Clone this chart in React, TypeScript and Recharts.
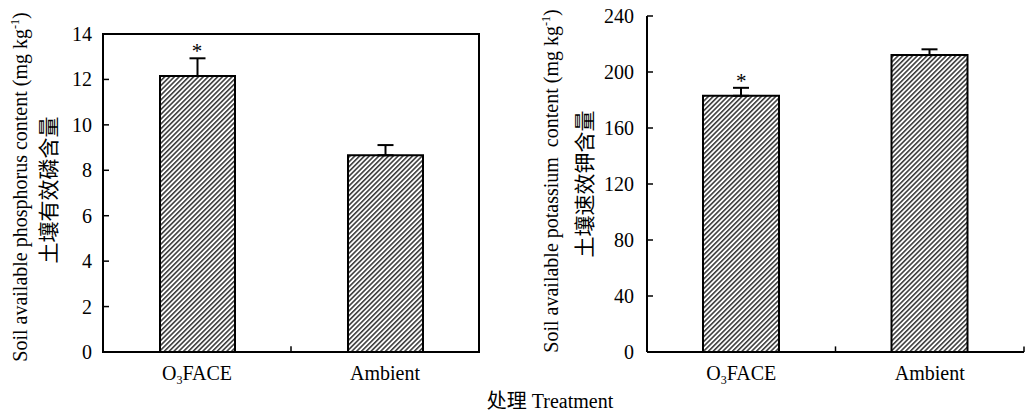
import React from 'react';
import {
  BarChart,
  Bar,
  XAxis,
  YAxis,
  ErrorBar,
  ReferenceLine,
  ReferenceArea,
  ReferenceDot,
} from 'recharts';

const categories = ['O3FACE', 'Ambient'];
const phosphorus = [12.15, 8.66];
const phosphorusErr = [0.78, 0.45];
const potassium = [183.0, 212.1];
const potassiumErr = [5.7, 4.1];
const significance = ['*', ''];
const phosphorusTicks = [0, 2, 4, 6, 8, 10, 12, 14];
const potassiumTicks = [0, 40, 80, 120, 160, 200, 240];

const pData = categories.map((c, i) => ({
  name: c,
  value: phosphorus[i],
  err: [0, phosphorusErr[i]],
  top: phosphorus[i] + phosphorusErr[i],
  sig: significance[i],
}));
const kData = categories.map((c, i) => ({
  name: c,
  value: potassium[i],
  err: [0, potassiumErr[i]],
  top: potassium[i] + potassiumErr[i],
  sig: significance[i],
}));

const SERIF = "'Liberation Serif', 'Times New Roman', 'Noto Sans CJK SC', serif";
const CJK = "'Noto Sans CJK SC', sans-serif";

const YTick = (props: any) => {
  const { x, y, payload, gap, fs } = props;
  return (
    <g>
      <line x1={x + gap} x2={x + gap + 6} y1={y} y2={y} stroke="#000" strokeWidth={1.5} />
      <text x={x} y={y} dy="0.35em" textAnchor="end" fontSize={fs} fontFamily={SERIF} fill="#000">
        {payload.value}
      </text>
    </g>
  );
};

const XTick = (props: any) => {
  const { x, y, payload, fs } = props;
  const v = String(payload.value);
  if (v === 'O3FACE') {
    return (
      <text x={x} y={y} textAnchor="middle" fontSize={fs} fontFamily={SERIF} fill="#000">
        <tspan>O</tspan>
        <tspan fontSize={fs * 0.6} dy={4}>3</tspan>
        <tspan dy={-4}>FACE</tspan>
      </text>
    );
  }
  return (
    <text x={x} y={y} textAnchor="middle" fontSize={fs} fontFamily={SERIF} fill="#000">
      {v}
    </text>
  );
};

const Hatch = ({ id }: { id: string }) => (
  <defs>
    <pattern id={id} patternUnits="userSpaceOnUse" width="3.4" height="3.4" patternTransform="rotate(45)">
      <rect x="0" y="0" width="3.4" height="3.4" fill="#fff" />
      <line x1="0.8" y1="0" x2="0.8" y2="3.4" stroke="#111" strokeWidth="1.3" />
    </pattern>
  </defs>
);

export default function App() {
  return (
    <div style={{ position: 'absolute', left: 0, top: 0, width: 1028, height: 416, background: '#fff' }}>
      <div style={{ position: 'absolute', left: 0, top: 0 }}>
        <BarChart width={500} height={416} data={pData} margin={{ top: 34, right: 21, bottom: 24, left: 63 }}>
          <Hatch id="hatchP" />
          <XAxis
            dataKey="name"
            height={40}
            tickLine={false}
            tickSize={0}
            tickMargin={28}
            axisLine={{ stroke: '#000', strokeWidth: 2 }}
            tick={(p: any) => <XTick {...p} fs={20} />}
            interval={0}
          />
          <YAxis
            width={40}
            domain={[0, 14]}
            ticks={phosphorusTicks}
            tickLine={false}
            tickSize={0}
            tickMargin={11}
            axisLine={{ stroke: '#000', strokeWidth: 2 }}
            tick={(p: any) => <YTick {...p} gap={11} fs={20} />}
            interval={0}
          />
          <ReferenceArea y1={0} y2={14} fill="none" stroke="#000" strokeWidth={2} fillOpacity={0} />
          <Bar dataKey="value" barSize={75} fill="url(#hatchP)" stroke="#000" strokeWidth={2} isAnimationActive={false}>
            <ErrorBar dataKey="err" direction="y" width={8} stroke="#000" strokeWidth={2} />
          </Bar>
          <ReferenceLine
            segment={[{ x: 'Ambient', y: 0 }, { x: 'Ambient', y: 0.25 }]}
            position="start"
            stroke="#000"
            strokeWidth={1.5}
          />
          <ReferenceDot
            x={pData[0].name}
            y={pData[0].top}
            r={0}
            fill="none"
            stroke="none"
            label={{ value: pData[0].sig, position: 'top', offset: 0, fontSize: 21, fontFamily: SERIF, fill: '#000' }}
          />
        </BarChart>
      </div>
      <div style={{ position: 'absolute', left: 520, top: 0 }}>
        <BarChart width={508} height={416} data={kData} margin={{ top: 16, right: 4, bottom: 24, left: 87 }}>
          <Hatch id="hatchK" />
          <XAxis
            dataKey="name"
            height={40}
            tickLine={false}
            tickSize={0}
            tickMargin={28}
            axisLine={{ stroke: '#000', strokeWidth: 2 }}
            tick={(p: any) => <XTick {...p} fs={20} />}
            interval={0}
          />
          <YAxis
            width={40}
            domain={[0, 240]}
            ticks={potassiumTicks}
            tickLine={false}
            tickSize={0}
            tickMargin={13}
            axisLine={{ stroke: '#000', strokeWidth: 2 }}
            tick={(p: any) => <YTick {...p} gap={13} fs={20} />}
            interval={0}
          />
          <Bar dataKey="value" barSize={76} fill="url(#hatchK)" stroke="#000" strokeWidth={2} isAnimationActive={false}>
            <ErrorBar dataKey="err" direction="y" width={8} stroke="#000" strokeWidth={2} />
          </Bar>
          <ReferenceLine
            segment={[{ x: 'Ambient', y: 0 }, { x: 'Ambient', y: 4 }]}
            position="start"
            stroke="#000"
            strokeWidth={1.5}
          />
          <ReferenceLine
            segment={[{ x: 'Ambient', y: 0 }, { x: 'Ambient', y: 4 }]}
            position="end"
            stroke="#000"
            strokeWidth={1.5}
          />
          <ReferenceDot
            x={kData[0].name}
            y={kData[0].top}
            r={0}
            fill="none"
            stroke="none"
            label={{ value: kData[0].sig, position: 'top', offset: 0, fontSize: 21, fontFamily: SERIF, fill: '#000' }}
          />
        </BarChart>
      </div>
      <svg
        width={1028}
        height={416}
        style={{ position: 'absolute', left: 0, top: 0, pointerEvents: 'none' }}
      >
        <text
          x={27}
          y={187}
          transform="rotate(-90, 27, 187)"
          textAnchor="middle"
          fontSize={20}
          fontFamily={SERIF}
          fill="#000"
        >
          Soil available phosphorus content (mg kg
          <tspan fontSize={12} dy={-8}>-1</tspan>
          <tspan dy={8}>)</tspan>
        </text>
        <text
          x={56}
          y={190}
          transform="rotate(-90, 56, 190)"
          textAnchor="middle"
          fontSize={21}
          fontFamily={CJK}
          fill="#000"
        >
          土壤有效磷含量
        </text>
        <text
          x={558}
          y={181}
          transform="rotate(-90, 558, 181)"
          textAnchor="middle"
          fontSize={20}
          fontFamily={SERIF}
          fill="#000"
          style={{ whiteSpace: 'pre' }}
        >
          {'Soil available potassium  content (mg kg'}
          <tspan fontSize={12} dy={-8}>-1</tspan>
          <tspan dy={8}>)</tspan>
        </text>
        <text
          x={592}
          y={184}
          transform="rotate(-90, 592, 184)"
          textAnchor="middle"
          fontSize={21}
          fontFamily={CJK}
          fill="#000"
        >
          土壤速效钾含量
        </text>
        <text x={550} y={408} textAnchor="middle" fontSize={20} fontFamily={SERIF} fill="#000">
          <tspan fontFamily={CJK}>处理</tspan>
          <tspan> Treatment</tspan>
        </text>
      </svg>
    </div>
  );
}
